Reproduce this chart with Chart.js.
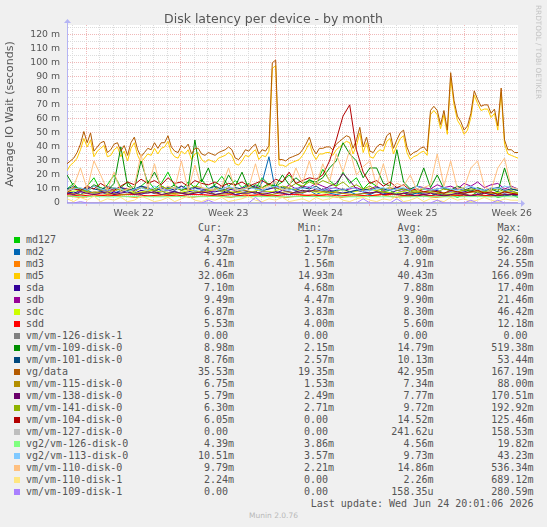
<!DOCTYPE html>
<html>
<head>
<meta charset="utf-8">
<title>Disk latency per device - by month</title>
<script src="https://cdn.jsdelivr.net/npm/chart.js@4.4.1/dist/chart.umd.min.js"></script>
<style>
  html, body { margin: 0; padding: 0; background: #f0f0f0; }
  #wrap { position: relative; width: 547px; height: 527px; overflow: hidden; font-family: 'DejaVu Sans', sans-serif; color: #555; }
  #chart { position: absolute; left: 0; top: 0; }
  #title { position: absolute; left: 0; top: 11px; width: 547px; text-align: center; font-size: 12.5px; line-height: 15px; }
  #rrd { position: absolute; left: 534px; top: 5px; writing-mode: vertical-rl; font-size: 7.3px; line-height: 8px; color: #c4c4c4; }
  .lg { position: absolute; font-family: 'DejaVu Sans Mono', monospace; font-size: 10px; line-height: 12px; white-space: pre; color: #555; }
  .num { text-align: right; width: 110px; }
  .sw { position: absolute; width: 6px; height: 6px; }
  #munin { position: absolute; left: 0; top: 511px; width: 547px; text-align: center; font-size: 7.5px; line-height: 10px; color: #b8b8b8; }
</style>
</head>
<body>
<div id="wrap">
  <canvas id="chart" width="547" height="222"></canvas>
  <div id="title">Disk latency per device - by month</div>
  <div id="rrd">RRDTOOL / TOBI OETIKER</div>
  <div id="legend"></div>
  <div id="munin">Munin 2.0.76</div>
</div>
<script>
// x axis is in days, 0 = start of week 22
const X_MIN = -1.444;
const X_MAX = 31.963;
const weekStarts = [0, 7, 14, 21, 28];
const weekMids = [3.5, 10.5, 17.5, 24.5, 31.5];
const weekLabels = ['Week 22', 'Week 23', 'Week 24', 'Week 25', 'Week 26'];
const yLabels = ['0', '10 m', '20 m', '30 m', '40 m', '50 m', '60 m', '70 m', '80 m', '90 m', '100 m', '110 m', '120 m'];

// values in milliseconds, evenly spread over the month
const md127 = [10,14,8,12,18,9,13,20,11,15,9,12,16,10,14,22,12,9,15,11,17,10,13,19,12,16,11,14,10,18,13,12,15,20,14,11,17,13,24,16,12,22,14,18,10,15,12,8,9,6,7,5,8,6,5,7,5,6,4,6,5,8,5,6,4,5,6,4];
const md2 = [7,8,6,9,7,8,6,7,9,8,7,6,8,7,9,6,8,7,6,8,7,9,6,7,8,6,7,8,7,15,33,8,7,6,8,7,9,6,8,7,6,7,8,6,7,6,8,7,6,7,5,6,7,6,5,7,6,5,6,7,5,6,5,6,7,5,6,5];
const md3 = [5,4,5,6,5,4,5,5,6,4,5,5,4,6,5,5,4,5,6,5,4,5,5,6,4,5,5,4,5,6,5,5,6,6];
const md5 = [
  23,27,29,32,38,46,40,45,33,37,
  39,41,33,34,38,40,33,37,30,39,
  43,34,29,32,35,34,39,35,39,40,
  44,36,33,32,37,35,38,31,35,36,
  31,29,31,30,29,32,33,34,36,34,
  28,27,30,34,33,36,38,31,34,33,
  37,96,98,27,27,26,28,29,30,31,
  34,38,43,35,31,35,35,36,36,34,
  38,40,42,44,43,35,41,50,36,43,
  33,32,36,38,37,44,46,35,41,46,
  48,36,31,33,34,36,37,34,63,66,
  63,53,63,49,89,70,59,55,49,52,
  61,77,71,66,67,67,61,64,52,79,
  42,35,34,33,32];
const sda = [8,7,9,8,7,8,9,7,8,8,7,9,8,7,8,9,8,7,8,9,7,8,8,9,7,8,9,8,7,8,8,7,9,8,7,8,9,8,10,9,8,7,8,9,8,7,8,8,7,9,8,7,8,7,8,9,7,8,7,8,9,7,8,7,8,7,8,7];
const sdb = [9,11,8,10,12,9,10,8,11,10,9,12,10,8,11,9,10,12,9,11,10,8,9,12,10,9,11,10,12,9,10,11,9,13,10,12,11,14,12,10,11,9,10,11,9,10,12,9,10,11,9,10,12,11,10,13,11,12,10,14,12,15,11,13,14,10,12,10];
const sdc = [8,9,7,8,10,7,9,8,7,9,8,10,8,7,9,8,11,9,8,7,9,8,10,8,7,9,8,8,7,9,8,7,8,7];
const sdd = [6,5,6,5,6,6,5,6,5,6,6,5,6,5,6,5,6,6,5,6,5,6,5,6,6,5,6,5,6,5,6,5,6,6];
const vm126d1 = [0,0];
const vm109d0 = [20,12,10,9,13,11,9,14,40,12,10,30,14,22,12,10,13,9,11,45,15,25,11,10,20,12,22,10,13,11,14,12,20,13,18,14,16,15,18,25,30,43,35,30,18,25,25,14,12,38,15,10,12,25,11,20,10,9,12,10,8,11,9,10,8,25,10,9];
const vm101d0 = [10,12,9,11,10,9,12,10,11,9,10,12,11,9,10,11,9,12,10,11,9,10,12,10,9,11,10,13,11,9,10,12,11,10,9,11,10,12,9,8,9,10,8,9,10,9,11,10,9,11,10,9,12,10,9,10,11,9,10,9,11,10,9,10,11,9,10,9];
const vgData = [
  28,30,32,36,42,51,43,50,37,40,
  43,44,36,38,42,43,37,41,34,43,
  47,38,33,36,39,38,43,39,43,43,
  48,40,37,36,41,39,42,35,39,39,
  35,34,36,35,34,36,37,38,40,38,
  32,31,34,38,37,40,42,35,38,37,
  41,100,102,31,31,30,32,33,34,35,
  38,42,47,39,35,39,39,40,40,38,
  42,44,46,48,47,39,45,54,40,47,
  37,36,40,42,41,48,50,39,45,50,
  52,40,34,36,37,39,40,37,66,69,
  66,56,66,52,93,73,62,58,52,55,
  64,80,74,69,70,70,64,67,55,82,
  45,38,38,36,36];
const vm115d0 = [7,6,8,7,6,7,8,6,7,7,8,6,7,9,7,6,8,7,9,8,7,6,7,8,6,7,8,7,6,7,8,7,6,7];
const vm138d0 = [7,6,8,7,6,7,8,6,7,8,6,7,7,8,6,7,8,7,6,7,8,7,6,7,8,6,7,7,8,6,7,8,7,6,8,9,8,10,9,12,14,21,16,10,8,7,8,6,7,6,7,6,5,6,7,6,5,6,7,6,5,6,7,6,5,6,6,6];
const vm141d0 = [9,11,10,8,12,9,10,11,9,10,8,11,10,9,12,10,11,9,10,12,11,9,10,8,11,10,9,12,10,11,13,10,12,11,14,12,15,13,16,14,12,15,11,13,10,12,9,10,11,9,10,8,9,10,9,8,10,9,8,9,10,9,8,9,10,8,9,7];
const vm104d0 = [8,10,9,12,10,14,11,9,12,15,13,17,14,16,13,18,14,15,12,16,14,13,15,12,14,13,15,12,14,16,13,17,15,22,14,16,18,17,20,30,45,62,70,38,22,14,16,12,15,11,13,9,10,8,9,8,7,9,8,7,8,9,7,8,6,8,7,6];
const vm127d0 = [0,0];
const vg2vm126 = [5,4.5,4.6,4.4,4.5,4.7,4.5,4.4,4.6,4.5,4.5,4.8,4.4,4.5,4.6,4.5,4.4,4.6,4.7,4.5,4.5,4.4,4.6,4.5,4.5,4.4,4.6,4.5,4.4,4.5,4.6,4.4,4.5,4.4];
const vg2vm113 = [9,10,11,9,12,10,9,11,10,8,10,11,9,12,10,9,11,10,12,9,10,11,9,10,12,10,9,11,10,9,11,12,10,9,11,10,12,10,9,11,10,9,11,10,8,9,10,11,9,10,11,9,12,10,9,10,11,10,9,11,12,10,9,11,10,12,11,10];
const vm110d0 = [8,12,25,10,30,20,9,22,8,10,12,35,10,28,9,12,10,30,9,27,11,10,9,12,25,9,10,11,28,10,12,15,9,11,25,14,30,12,28,15,35,22,38,20,26,30,12,28,10,14,12,20,9,11,13,35,12,30,10,11,25,30,12,9,25,32,11,10];
const vm110d1 = [3,1,4,2,5,1,3,2,4,1,2,5,3,1,2,4,1,3,5,2,1,3,2,4,1,2,3,5,2,1,3,2,4,1,2,3,1,4,2,3,5,2,1,3,4,2,1,3,2,5,1,2,4,1,3,2,1,4,2,3,1,2,4,2,1,3,2,2];
const vm109d1 = [0,0,1,0,0,0,0,0,0,0,0,0,0,0,0,0,0,0,0,0,0,2,0,0,0,0,0,0,4,0,0,0,0,0,0,0,0,0,0,0,0,0,0,0,3,0,0,0,0,3,0,0,0,0,0,2,0,0,0,0,2,0,0,0,2,0,0,0];

const names = ['md127','md2','md3','md5','sda','sdb','sdc','sdd','vm/vm-126-disk-1','vm/vm-109-disk-0','vm/vm-101-disk-0','vg/data','vm/vm-115-disk-0','vm/vm-138-disk-0','vm/vm-141-disk-0','vm/vm-104-disk-0','vm/vm-127-disk-0','vg2/vm-126-disk-0','vg2/vm-113-disk-0','vm/vm-110-disk-0','vm/vm-110-disk-1','vm/vm-109-disk-1'];
const colors = ['#00CC00','#0066B3','#FF8000','#FFCC00','#330099','#990099','#CCFF00','#FF0000','#808080','#008F00','#00487D','#B35A00','#B38F00','#6B006B','#8FB300','#B30000','#BEBEBE','#80FF80','#80C9FF','#FFC080','#FFE680','#AA80FF'];
const series = [md127, md2, md3, md5, sda, sdb, sdc, sdd, vm126d1, vm109d0, vm101d0, vgData, vm115d0, vm138d0, vm141d0, vm104d0, vm127d0, vg2vm126, vg2vm113, vm110d0, vm110d1, vm109d1];

const curVals = ['4.37m','4.92m','6.41m','32.06m','7.10m','9.49m','6.87m','5.53m','0.00 ','8.98m','8.76m','35.53m','6.75m','5.79m','6.30m','6.05m','0.00 ','4.39m','10.51m','9.79m','2.24m','0.00 '];
const minVals = ['1.17m','2.57m','1.56m','14.93m','4.68m','4.47m','3.83m','4.00m','0.00 ','2.15m','2.57m','19.35m','1.53m','2.49m','2.71m','0.00 ','0.00 ','3.86m','3.57m','2.21m','0.00 ','0.00 '];
const avgVals = ['13.00m','7.00m','4.91m','40.43m','7.88m','9.90m','8.30m','5.60m','0.00 ','14.79m','10.13m','42.95m','7.34m','7.77m','9.72m','14.52m','241.62u','4.56m','9.73m','14.86m','2.26m','158.35u'];
const maxVals = ['92.60m','56.28m','24.55m','166.09m','17.40m','21.46m','46.42m','12.18m','0.00 ','519.38m','53.44m','167.19m','88.00m','170.51m','192.92m','125.46m','158.53m','19.82m','43.23m','536.34m','689.12m','280.59m'];
const lastUpdate = 'Last update: Wed Jun 24 20:01:06 2026';

const AXIS_COLOR = '#b4b4f4';
const MAJOR_GRID = '#f0b8b8';
const MINOR_GRID = '#dcdcdc';

function toPoints(values) {
    const step = (X_MAX - X_MIN) / (values.length - 1);
    return values.map((v, i) => ({ x: X_MIN + i * step, y: v }));
}

// white plot area + the little axis arrows rrdtool draws
const muninLook = {
    id: 'muninLook',
    beforeDraw(chart) {
        const { ctx, chartArea: a } = chart;
        ctx.save();
        ctx.fillStyle = '#ffffff';
        ctx.fillRect(a.left, a.top, a.right - a.left, a.bottom - a.top);
        ctx.restore();
    },
    afterDraw(chart) {
        const { ctx, chartArea: a } = chart;
        const xl = Math.round(a.left) + 0.5;
        const yb = Math.round(a.bottom) + 0.5;
        ctx.save();
        ctx.strokeStyle = AXIS_COLOR;
        ctx.fillStyle = AXIS_COLOR;
        ctx.lineWidth = 1;
        ctx.beginPath();
        ctx.moveTo(a.right, yb); ctx.lineTo(a.right + 3, yb);
        ctx.moveTo(xl, a.top); ctx.lineTo(xl, a.top - 2);
        ctx.stroke();
        ctx.beginPath();
        ctx.moveTo(a.right + 3, yb - 3.5); ctx.lineTo(a.right + 7, yb); ctx.lineTo(a.right + 3, yb + 3.5);
        ctx.fill();
        ctx.beginPath();
        ctx.moveTo(xl - 3.5, a.top - 2); ctx.lineTo(xl, a.top - 6); ctx.lineTo(xl + 3.5, a.top - 2);
        ctx.fill();
        ctx.restore();
    }
};

function buildLegend() {
    const box = document.getElementById('legend');
    const rowTop = (i) => 233.5 + 12 * i;
    const colRight = [234, 334, 433.5, 533.5];
    let html = '';
    const heads = ['Cur:', 'Min:', 'Avg:', 'Max:'];
    heads.forEach((h, k) => {
        html += `<div class="lg" style="left:${colRight[k] - 36}px;top:${rowTop(-1)}px">${h}</div>`;
    });
    names.forEach((name, i) => {
        const top = rowTop(i);
        html += `<div class="sw" style="left:14px;top:${top + 3}px;background:${colors[i]}"></div>`;
        html += `<div class="lg" style="left:26px;top:${top}px">${name}</div>`;
        [curVals[i], minVals[i], avgVals[i], maxVals[i]].forEach((v, k) => {
            html += `<div class="lg num" style="left:${colRight[k] - 110}px;top:${top}px">${v}</div>`;
        });
    });
    html += `<div class="lg num" style="left:${colRight[3] - 260}px;width:260px;top:${rowTop(names.length)}px">${lastUpdate}</div>`;
    box.innerHTML = html;
}

function buildChart() {
    const datasets = series.map((vals, i) => ({
        label: names[i],
        data: toPoints(vals),
        borderColor: colors[i],
        backgroundColor: colors[i],
        borderWidth: 1,
        pointRadius: 0,
        tension: 0,
        fill: false,
        order: -i
    }));

    const ctx = document.getElementById('chart').getContext('2d');
    new Chart(ctx, {
        type: 'line',
        data: { datasets },
        plugins: [muninLook],
        options: {
            responsive: false,
            animation: false,
            devicePixelRatio: 1,
            layout: { padding: { top: 25, right: 29, left: 0, bottom: 0 } },
            plugins: { legend: { display: false }, tooltip: { enabled: false } },
            scales: {
                x: {
                    type: 'linear',
                    min: X_MIN,
                    max: X_MAX,
                    afterBuildTicks: (scale) => {
                        const t = [];
                        for (let v = -1; v <= 31.5; v += 0.5) t.push({ value: v });
                        scale.ticks = t;
                    },
                    afterFit: (scale) => { scale.height = 19; },
                    ticks: {
                        autoSkip: false,
                        maxRotation: 0,
                        padding: 2,
                        color: '#555',
                        font: { family: 'DejaVu Sans', size: 9.3 },
                        callback: (v) => {
                            const k = weekMids.indexOf(v);
                            return k >= 0 ? weekLabels[k] : '';
                        }
                    },
                    grid: {
                        tickLength: 3,
                        color: (c) => {
                            const v = c.tick ? c.tick.value : null;
                            if (v === null || !Number.isInteger(v)) return 'rgba(0,0,0,0)';
                            return weekStarts.includes(v) ? MAJOR_GRID : MINOR_GRID;
                        }
                    },
                    border: { color: AXIS_COLOR, dash: [1, 1] }
                },
                y: {
                    min: 0,
                    max: 127,
                    afterBuildTicks: (scale) => {
                        const t = [];
                        for (let v = 0; v <= 125; v += 5) t.push({ value: v });
                        scale.ticks = t;
                    },
                    afterFit: (scale) => { scale.width = 67; },
                    title: {
                        display: true,
                        text: 'Average IO Wait (seconds)',
                        color: '#555',
                        padding: { top: 4, bottom: 0 },
                        font: { family: 'DejaVu Sans', size: 11 }
                    },
                    ticks: {
                        autoSkip: false,
                        padding: 7,
                        color: '#555',
                        font: { family: 'DejaVu Sans', size: 9.3 },
                        callback: (v) => (v % 10 === 0 ? yLabels[v / 10] : '')
                    },
                    grid: {
                        drawTicks: false,
                        color: (c) => {
                            const v = c.tick ? c.tick.value : null;
                            if (v === null || v === 0) return 'rgba(0,0,0,0)';
                            return v % 10 === 0 ? MAJOR_GRID : MINOR_GRID;
                        }
                    },
                    border: { color: AXIS_COLOR, dash: [1, 1] }
                }
            }
        }
    });
}

document.addEventListener('DOMContentLoaded', () => {
    buildLegend();
    buildChart();
});
</script>
</body>
</html>
